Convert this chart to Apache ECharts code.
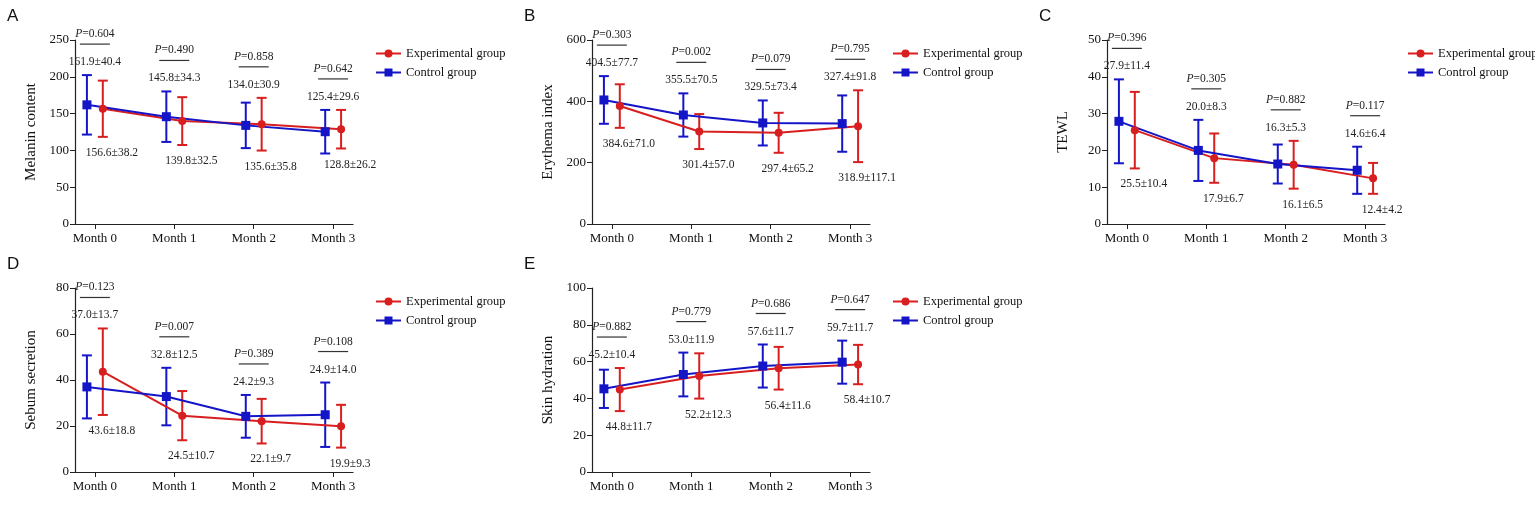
<!DOCTYPE html>
<html><head><meta charset="utf-8">
<script src="https://cdn.jsdelivr.net/npm/echarts@6/dist/echarts.min.js"></script>
<style>html,body{margin:0;padding:0;background:#fff}#c{width:1535px;height:525px}</style>
</head><body><div id="c"></div>
<script>
const months = ['Month 0','Month 1','Month 2','Month 3'];
const letters = ['A','B','C','D','E'];
const yNames = ['Melanin content','Erythema index','TEWL','Sebum secretion','Skin hydration'];
const yMax = [250,600,50,80,100];
const yStep = [50,200,10,20,20];
const ctrlMean = [[161.9,145.8,134.0,125.4],[404.5,355.5,329.5,327.4],[27.9,20.0,16.3,14.6],[37.0,32.8,24.2,24.9],[45.2,53.0,57.6,59.7]];
const ctrlSD   = [[40.4,34.3,30.9,29.6],[77.7,70.5,73.4,91.8],[11.4,8.3,5.3,6.4],[13.7,12.5,9.3,14.0],[10.4,11.9,11.7,11.7]];
const expMean  = [[156.6,139.8,135.6,128.8],[384.6,301.4,297.4,318.9],[25.5,17.9,16.1,12.4],[43.6,24.5,22.1,19.9],[44.8,52.2,56.4,58.4]];
const expSD    = [[38.2,32.5,35.8,26.2],[71.0,57.0,65.2,117.1],[10.4,6.7,6.5,4.2],[18.8,10.7,9.7,9.3],[11.7,12.3,11.6,10.7]];
const pVals    = [['0.604','0.490','0.858','0.642'],['0.303','0.002','0.079','0.795'],['0.396','0.305','0.882','0.117'],['0.123','0.007','0.389','0.108'],['0.882','0.779','0.686','0.647']];

const RED='#d81e1e', BLUE='#1515c8', FONT='Liberation Serif';
const layout = [[75,40],[592,40],[1107,40],[75,288],[592,288]];
const GW=278, GH=184, OFF=0.1;

const grids=[],xAxes=[],yAxes=[],series=[],legends=[],graphics=[];
layout.forEach(([l,t],i)=>{
  grids.push({left:l,top:t,width:GW,height:GH});
  xAxes.push({gridIndex:i,type:'value',min:-0.25,max:3.25,
    axisLine:{onZero:false,lineStyle:{color:'#222',width:1.2}},splitLine:{show:false},
    axisTick:{customValues:[0,1,2,3],length:5,lineStyle:{color:'#222'}},
    axisLabel:{customValues:[0,1,2,3],formatter:v=>months[Math.round(v)],color:'#111',fontFamily:FONT,fontSize:13,margin:8}});
  yAxes.push({gridIndex:i,type:'value',min:0,max:yMax[i],interval:yStep[i],
    name:yNames[i],nameLocation:'middle',nameGap:36,nameTextStyle:{fontFamily:FONT,fontSize:15,color:'#111'},
    axisLine:{show:true,onZero:false,lineStyle:{color:'#222',width:1.2}},splitLine:{show:false},
    axisTick:{show:true,length:5,lineStyle:{color:'#222'}},
    axisLabel:{color:'#111',fontFamily:FONT,fontSize:13,margin:6}});
  const groups=[
    {name:'Control group',color:BLUE,sym:'rect',m:ctrlMean[i],s:ctrlSD[i],dx:-OFF},
    {name:'Experimental group',color:RED,sym:'circle',m:expMean[i],s:expSD[i],dx:OFF}];
  groups.forEach(g=>{
    series.push({type:'custom',xAxisIndex:i,yAxisIndex:i,silent:true,z:2,
      data:g.m.map((v,k)=>[k+g.dx,v-g.s[k],v+g.s[k]]),
      renderItem:(p,api)=>{
        const lo=api.coord([api.value(0),api.value(1)]),hi=api.coord([api.value(0),api.value(2)]);
        const st={stroke:g.color,lineWidth:2};
        return {type:'group',children:[
          {type:'line',shape:{x1:lo[0],y1:lo[1],x2:hi[0],y2:hi[1]},style:st},
          {type:'line',shape:{x1:lo[0]-5,y1:lo[1],x2:lo[0]+5,y2:lo[1]},style:st},
          {type:'line',shape:{x1:hi[0]-5,y1:hi[1],x2:hi[0]+5,y2:hi[1]},style:st}]};
      }});
  });
  [groups[1],groups[0]].forEach(g=>{
    series.push({type:'line',name:g.name,xAxisIndex:i,yAxisIndex:i,z:3,
      data:g.m.map((v,k)=>[k+g.dx,v]),symbol:g.sym,symbolSize:g.sym==='rect'?9:8,
      itemStyle:{color:g.color},lineStyle:{color:g.color,width:2}});
  });
  series.push({type:'custom',xAxisIndex:i,yAxisIndex:i,silent:true,z:4,
    data:months.map((m,k)=>[k,ctrlMean[i][k],ctrlSD[i][k],expMean[i][k],expSD[i][k]]),
    renderItem:(p,api)=>{
      const k=p.dataIndex,x=api.value(0);
      const cTop=api.coord([x-OFF,ctrlMean[i][k]+ctrlSD[i][k]])[1];
      const eTop=api.coord([x+OFF,expMean[i][k]+expSD[i][k]])[1];
      const eBot=api.coord([x+OFF,expMean[i][k]-expSD[i][k]]);
      const cx=api.coord([x,0])[0];
      const top=Math.min(cTop,eTop);
      const ly=top-13, lineY=ly-18, py=lineY-10;
      const ts={fontFamily:FONT,fontSize:11.5,fill:'#222',align:'center',verticalAlign:'middle'};
      return {type:'group',children:[
        {type:'text',x:cx,y:ly,style:Object.assign({text:ctrlMean[i][k].toFixed(1)+'±'+ctrlSD[i][k].toFixed(1)},ts)},
        {type:'line',shape:{x1:cx-15,y1:lineY,x2:cx+15,y2:lineY},style:{stroke:'#333',lineWidth:1.2}},
        {type:'text',x:cx,y:py,style:Object.assign({text:'{i|P}=' + pVals[i][k],rich:{i:{fontStyle:'italic',fontFamily:FONT,fontSize:11.5}}},ts)},
        {type:'text',x:cx+17,y:eBot[1]+16,style:Object.assign({text:expMean[i][k].toFixed(1)+'±'+expSD[i][k].toFixed(1)},ts)}
      ]};
    }});
  legends.push({left:l+GW+17,top:t+2,orient:'vertical',itemGap:6,itemWidth:25,itemHeight:10,
    data:['Experimental group','Control group'],textStyle:{fontFamily:FONT,fontSize:12.5,color:'#111'}});
  graphics.push({type:'text',left:l-68,top:t-32,style:{text:letters[i],fontFamily:'Liberation Sans',fontSize:17,fill:'#111'}});
});

const chart=echarts.init(document.getElementById('c'));
chart.setOption({animation:false,backgroundColor:'#fff',grid:grids,xAxis:xAxes,yAxis:yAxes,series:series,legend:legends,graphic:graphics});
</script></body></html>
